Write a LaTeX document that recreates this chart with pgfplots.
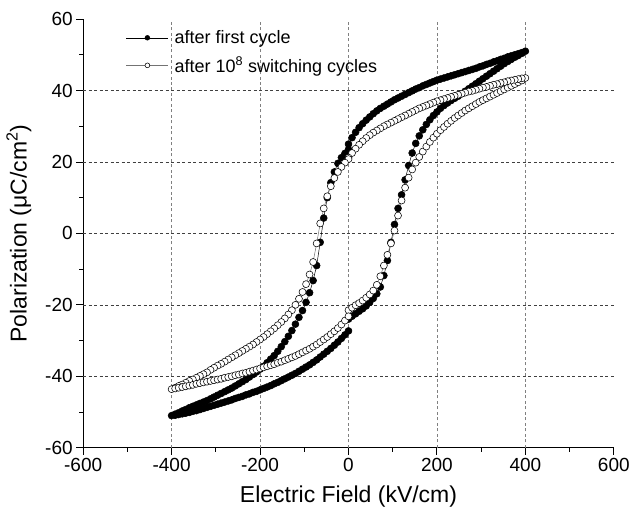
\documentclass[border=0pt]{standalone}
\usepackage{fontspec}
\setmainfont{Liberation Sans}
\usepackage{pgfplots}
\pgfplotsset{compat=1.18}
\begin{document}
\begin{tikzpicture}
\begin{axis}[
  width=531pt, height=429pt, scale only axis,
  xmin=-600, xmax=600, ymin=-60, ymax=60,
  axis x line*=bottom, axis y line*=left,
  axis line style={line width=1.1pt, -},
  xtick={-600,-400,...,600}, ytick={-60,-40,...,60},
  minor x tick num=1, minor y tick num=1,
  tick align=outside, major tick length=7pt, minor tick length=4pt,
  tick style={line width=0.9pt, black},
  extra x ticks={-400,-200,0,200,400}, extra x tick labels={,,,,},
  extra x tick style={grid=major, major tick length=0pt,
    major grid style={black!50, line width=0.5pt, dash pattern=on 3pt off 2.5pt}},
  extra y ticks={-40,-20,0,20,40}, extra y tick labels={,,,,},
  extra y tick style={grid=major, major tick length=0pt,
    major grid style={black!75, line width=0.6pt, dash pattern=on 3pt off 2.5pt}},
  /pgf/number format/assume math mode=true,
  ticklabel style={font=\fontsize{19}{22}\selectfont},
  label style={font=\fontsize{23}{27}\selectfont},
  xlabel={Electric Field (kV/cm)},
  ylabel={Polarization (μC/cm\textsuperscript{2})},
  legend style={draw=none, fill=none, at={(0.075,0.983)}, anchor=north west,
    font=\fontsize{18}{21}\selectfont, row sep=8pt, cells={anchor=west}},
  legend image code/.code={\draw[mark repeat=2,mark phase=2,#1,mark size=2.4pt]
    plot coordinates {(0pt,0pt) (21pt,0pt) (42pt,0pt)};
    \path (46pt,0pt);},
]
% after first cycle
\addplot[black, line width=0.5pt, mark=*, mark size=3.5pt,
  mark options={solid, fill=black, draw=black}] coordinates {
(0,-24.0) (8,-23.2) (16,-22.5) (24,-21.8) (32,-21.1) (40,-20.3) (48,-19.3) (56,-18.2)
(64,-16.9) (72,-15.0) (80,-11.8) (88,-7.6) (96,-2.5) (104,2.5) (112,7.0) (120,10.8)
(128,15.0) (136,19.0) (144,22.5) (152,25.2) (160,27.3) (168,29.0) (176,30.5) (184,31.8)
(192,33.0) (200,34.0) (208,35.0) (216,35.8) (224,36.5) (232,37.2) (240,37.8) (248,38.4)
(256,39.1) (264,39.8) (272,40.5) (280,41.2) (288,41.9) (296,42.6) (304,43.3) (312,44.0)
(320,44.7) (328,45.4) (336,46.1) (344,46.8) (352,47.5) (360,48.1) (368,48.7) (376,49.3)
(384,49.8) (392,50.4) (400,51.0)
(392,50.6) (384,50.3) (376,50.0) (368,49.7) (360,49.4) (352,49.0) (344,48.7) (336,48.3)
(328,48.0) (320,47.6) (312,47.3) (304,46.9) (296,46.6) (288,46.2) (280,45.9) (272,45.6)
(264,45.3) (256,45.0) (248,44.7) (240,44.4) (232,44.1) (224,43.8) (216,43.5) (208,43.2)
(200,42.9) (192,42.5) (184,42.1) (176,41.7) (168,41.3) (160,40.8) (152,40.4) (144,39.9)
(136,39.4) (128,38.9) (120,38.4) (112,37.9) (104,37.4) (96,36.8) (88,36.2) (80,35.6)
(72,35.0) (64,34.3) (56,33.5) (48,32.6) (40,31.7) (32,30.7) (24,29.6) (16,28.3)
(8,26.8) (0,25.0)
(0,23.5) (-8,22.4) (-16,21.2) (-24,19.6) (-32,17.2) (-40,14.2) (-48,10.0) (-56,4.3)
(-64,-2.5) (-72,-9.0) (-80,-13.2) (-88,-16.6) (-96,-19.3) (-104,-21.6) (-112,-23.5) (-120,-25.4)
(-128,-27.2) (-136,-28.8) (-144,-30.3) (-152,-31.7) (-160,-33.0) (-168,-34.2) (-176,-35.2) (-184,-36.2)
(-192,-37.2) (-200,-38.0) (-208,-38.8) (-216,-39.5) (-224,-40.2) (-232,-40.9) (-240,-41.5) (-248,-42.1)
(-256,-42.7) (-264,-43.3) (-272,-43.8) (-280,-44.3) (-288,-44.8) (-296,-45.3) (-304,-45.8) (-312,-46.3)
(-320,-46.8) (-328,-47.2) (-336,-47.6) (-344,-48.0) (-352,-48.4) (-360,-48.8) (-368,-49.3) (-376,-49.7)
(-384,-50.2) (-392,-50.6) (-400,-51.0)
(-392,-50.9) (-384,-50.7) (-376,-50.5) (-368,-50.3) (-360,-50.1) (-352,-49.8) (-344,-49.6) (-336,-49.3)
(-328,-49.0) (-320,-48.7) (-312,-48.4) (-304,-48.1) (-296,-47.8) (-288,-47.5) (-280,-47.2) (-272,-46.9)
(-264,-46.6) (-256,-46.2) (-248,-45.9) (-240,-45.6) (-232,-45.2) (-224,-44.9) (-216,-44.5) (-208,-44.2)
(-200,-43.8) (-192,-43.4) (-184,-43.0) (-176,-42.6) (-168,-42.1) (-160,-41.7) (-152,-41.2) (-144,-40.7)
(-136,-40.2) (-128,-39.7) (-120,-39.2) (-112,-38.6) (-104,-38.0) (-96,-37.4) (-88,-36.8) (-80,-36.1)
(-72,-35.4) (-64,-34.6) (-56,-33.8) (-48,-33.0) (-40,-32.2) (-32,-31.3) (-24,-30.4) (-16,-29.4)
(-8,-28.4) (0,-27.3)
};
\addlegendentry{after first cycle}
% after 10^8 switching cycles
\addplot[black!55, line width=0.5pt, mark=*, mark size=3.5pt,
  mark options={solid, fill=white, draw=black, line width=0.55pt}] coordinates {
(0,-21.5) (8,-20.8) (16,-20.1) (24,-19.5) (32,-18.8) (40,-18.0) (48,-17.1) (56,-16.0)
(64,-14.4) (72,-12.0) (80,-9.0) (88,-6.0) (96,-2.8) (104,0.8) (112,5.0) (120,9.2)
(128,12.8) (136,15.6) (144,17.9) (152,19.8) (160,21.4) (168,22.9) (176,24.3) (184,25.6)
(192,26.8) (200,27.9) (208,28.9) (216,29.8) (224,30.7) (232,31.5) (240,32.3) (248,33.0)
(256,33.7) (264,34.4) (272,35.0) (280,35.6) (288,36.2) (296,36.8) (304,37.3) (312,37.8)
(320,38.3) (328,38.8) (336,39.3) (344,39.8) (352,40.3) (360,40.8) (368,41.3) (376,41.8)
(384,42.3) (392,42.8) (400,43.5)
(392,43.4) (384,43.2) (376,43.0) (368,42.8) (360,42.6) (352,42.3) (344,42.1) (336,41.8)
(328,41.6) (320,41.3) (312,41.0) (304,40.8) (296,40.5) (288,40.2) (280,39.9) (272,39.7)
(264,39.4) (256,39.1) (248,38.8) (240,38.5) (232,38.2) (224,37.9) (216,37.6) (208,37.3)
(200,37.0) (192,36.6) (184,36.2) (176,35.8) (168,35.4) (160,35.0) (152,34.5) (144,34.0)
(136,33.5) (128,33.0) (120,32.5) (112,32.0) (104,31.5) (96,31.0) (88,30.5) (80,30.0)
(72,29.4) (64,28.8) (56,28.2) (48,27.5) (40,26.7) (32,25.8) (24,24.8) (16,23.7)
(8,22.5) (0,21.2)
(0,20.8) (-8,19.8) (-16,18.6) (-24,17.2) (-32,15.5) (-40,13.2) (-48,10.4) (-56,7.0)
(-64,2.8) (-72,-2.8) (-80,-8.0) (-88,-11.5) (-96,-14.2) (-104,-16.4) (-112,-18.3) (-120,-20.0)
(-128,-21.5) (-136,-22.7) (-144,-23.8) (-152,-24.8) (-160,-25.7) (-168,-26.6) (-176,-27.4) (-184,-28.2)
(-192,-29.0) (-200,-29.7) (-208,-30.4) (-216,-31.1) (-224,-31.7) (-232,-32.3) (-240,-32.9) (-248,-33.5)
(-256,-34.1) (-264,-34.7) (-272,-35.3) (-280,-35.9) (-288,-36.5) (-296,-37.0) (-304,-37.6) (-312,-38.2)
(-320,-38.9) (-328,-39.4) (-336,-39.9) (-344,-40.4) (-352,-40.9) (-360,-41.3) (-368,-41.8) (-376,-42.3)
(-384,-42.7) (-392,-43.2) (-400,-43.6)
(-392,-43.4) (-384,-43.2) (-376,-43.0) (-368,-42.8) (-360,-42.6) (-352,-42.4) (-344,-42.1) (-336,-41.9)
(-328,-41.7) (-320,-41.5) (-312,-41.3) (-304,-41.1) (-296,-40.9) (-288,-40.7) (-280,-40.4) (-272,-40.2)
(-264,-40.0) (-256,-39.7) (-248,-39.5) (-240,-39.2) (-232,-39.0) (-224,-38.7) (-216,-38.4) (-208,-38.1)
(-200,-37.8) (-192,-37.5) (-184,-37.2) (-176,-36.9) (-168,-36.6) (-160,-36.2) (-152,-35.9) (-144,-35.5)
(-136,-35.1) (-128,-34.7) (-120,-34.3) (-112,-33.8) (-104,-33.3) (-96,-32.8) (-88,-32.3) (-80,-31.7)
(-72,-31.1) (-64,-30.4) (-56,-29.7) (-48,-29.0) (-40,-28.2) (-32,-27.4) (-24,-26.5) (-16,-25.5)
(-8,-24.4) (0,-23.2)
};
\addlegendentry{after 10\textsuperscript{8} switching cycles}
\end{axis}
\path ([yshift=9pt]current axis.outer north) -- ([yshift=-3pt]current axis.outer south);
\path ([xshift=-3pt]current axis.outer west) -- ([xshift=-3pt]current axis.outer west);
\end{tikzpicture}
\end{document}
